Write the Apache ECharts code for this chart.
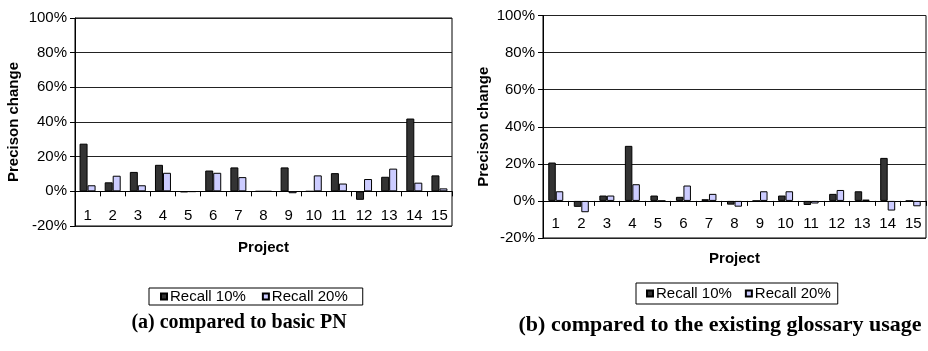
<!DOCTYPE html>
<html>
<head>
<meta charset="utf-8">
<script src="https://cdn.jsdelivr.net/npm/echarts@6/dist/echarts.min.js"></script>
<style>
html,body{margin:0;padding:0;background:#fff;}
#chart{width:928px;height:351px;}
</style>
</head>
<body>
<div id="chart"></div>
<script>
const projects = ['1','2','3','4','5','6','7','8','9','10','11','12','13','14','15'];
const yTicks = [-20, 0, 20, 40, 60, 80, 100];
const seriesNames = ['Recall 10%', 'Recall 20%'];

// (a) compared to basic PN
const aRecall10 = [27.5, 5.2, 11.2, 15.3, -0.5, 12.0, 13.8, 0, 13.8, 0, 10.5, -4.9, 8.4, 42.0, 9.2];
const aRecall20 = [3.5, 9.0, 3.5, 10.7, -0.3, 10.7, 8.2, 0, -1.1, 9.2, 4.5, 7.1, 13.1, 5.0, 1.7];

// (b) compared to the existing glossary usage
const bRecall10 = [20.7, -3.2, 2.9, 29.7, 2.9, 2.2, 0.9, -2.0, 0, 2.9, -2.2, 3.8, 5.2, 23.2, 0];
const bRecall20 = [5.2, -6.1, 2.9, 9.0, 0, 8.3, 3.8, -3.1, 5.2, 5.2, -1.4, 5.9, 0.7, -5.2, -2.9];

const titleA = '(a) compared to basic PN';
const titleB = '(b) compared to the existing glossary usage';
const yName = 'Precison change';
const xName = 'Project';

const colors = ['#333333', '#ccccff'];
const sans = 'Liberation Sans';

const W = 928, H = 351;
const gridA = {left: 75, right: 476, top: 18, bottom: 125};
const gridB = {left: 543, right: 2, top: 15.5, bottom: 113};

// distance of the zero line above the bottom of the plot (min -20 of a -20..100 range)
function zeroOffset(g) {
  const h = H - g.top - g.bottom;
  return h * (0 - yTicks[0]) / (yTicks[yTicks.length - 1] - yTicks[0]);
}

function xAxisFor(gi, g, gap, lblMargin) {
  return {
    type: 'category', gridIndex: gi, data: projects, position: 'bottom',
    offset: -zeroOffset(g),
    name: xName, nameLocation: 'middle', nameGap: gap,
    nameTextStyle: {fontFamily: sans, fontWeight: 'bold', fontSize: 15, color: '#000'},
    axisLine: {onZero: false, lineStyle: {color: '#000', width: 1}},
    axisTick: {show: true, length: 5, lineStyle: {color: '#000'}},
    axisLabel: {fontFamily: sans, fontSize: 15, color: '#000', margin: lblMargin}
  };
}
function yAxisFor(gi, gap) {
  return {
    type: 'value', gridIndex: gi, min: yTicks[0], max: yTicks[yTicks.length - 1], interval: 20,
    name: yName, nameLocation: 'middle', nameGap: gap, nameRotate: 90,
    nameTextStyle: {fontFamily: sans, fontWeight: 'bold', fontSize: 15, color: '#000'},
    axisLine: {show: true, lineStyle: {color: '#000'}},
    axisTick: {show: true, length: 5, lineStyle: {color: '#000'}},
    axisLabel: {fontFamily: sans, fontSize: 15, color: '#000', margin: 8, formatter: '{value}%'},
    splitLine: {show: true, lineStyle: {color: '#222', width: 1}}
  };
}
function bar(name, data, idx, gi, bw) {
  return {
    name: name, type: 'bar', xAxisIndex: gi, yAxisIndex: gi, data: data,
    barWidth: bw, barGap: '0%',
    itemStyle: {color: colors[idx], borderColor: '#000', borderWidth: 1},
    emphasis: {disabled: true}
  };
}
function legendFor(left, top, pad, gap) {
  return {
    data: seriesNames, left: left, top: top, orient: 'horizontal',
    icon: 'rect', itemWidth: 6, itemHeight: 6, itemGap: gap,
    borderColor: '#000', borderWidth: 1, padding: pad,
    textStyle: {fontFamily: sans, fontSize: 15, color: '#000', padding: [0, 0, 0, -2]}
  };
}

const chart = echarts.init(document.getElementById('chart'), null, {renderer: 'canvas'});
chart.setOption({
  animation: false,
  backgroundColor: '#fff',
  title: [
    {text: titleA, left: 234, top: 308, textAlign: 'center',
     textStyle: {fontFamily: 'Liberation Serif', fontWeight: 'bold', fontSize: 20, color: '#000'}},
    {text: titleB, left: 715, top: 309, textAlign: 'center',
     textStyle: {fontFamily: 'Liberation Serif', fontWeight: 'bold', fontSize: 22, color: '#000'}}
  ],
  legend: [legendFor(149, 288, [1, 15, 1, 11], 16), legendFor(636, 283, [3, 7, 3, 10], 13)],
  grid: [
    Object.assign({show: true, borderColor: '#000', borderWidth: 1, containLabel: false}, gridA),
    Object.assign({show: true, borderColor: '#000', borderWidth: 1, containLabel: false}, gridB)
  ],
  xAxis: [xAxisFor(0, gridA, 49, 17), xAxisFor(1, gridB, 50, 15)],
  yAxis: [yAxisFor(0, 54), yAxisFor(1, 52)],
  series: [
    bar(seriesNames[0], aRecall10, 0, 0, 8),
    bar(seriesNames[1], aRecall20, 1, 0, 8),
    bar(seriesNames[0], bRecall10, 0, 1, 7.5),
    bar(seriesNames[1], bRecall20, 1, 1, 7.5)
  ]
});
</script>
</body>
</html>
